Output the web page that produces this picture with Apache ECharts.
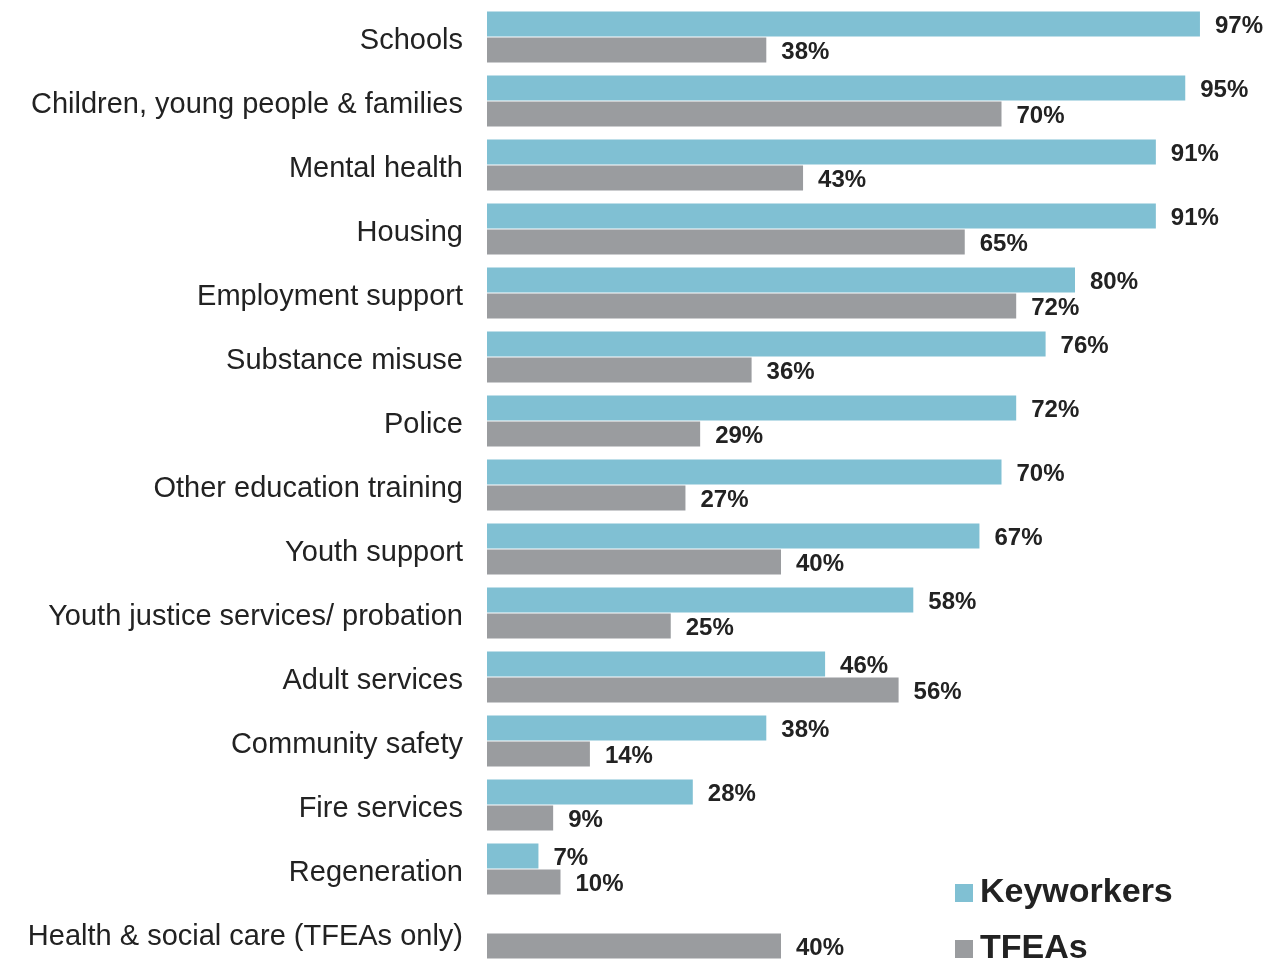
<!DOCTYPE html>
<html>
<head>
<meta charset="utf-8">
<script src="https://cdn.jsdelivr.net/npm/echarts@6/dist/echarts.min.js"></script>
<style>
html,body{margin:0;padding:0;background:#fff;}
#chart{width:1278px;height:960px;}
</style>
</head>
<body>
<div id="chart"></div>
<script>
const categories = [
  "Schools",
  "Children, young people & families",
  "Mental health",
  "Housing",
  "Employment support",
  "Substance misuse",
  "Police",
  "Other education training",
  "Youth support",
  "Youth justice services/ probation",
  "Adult services",
  "Community safety",
  "Fire services",
  "Regeneration",
  "Health & social care (TFEAs only)"
];
const keyworkers = [97, 95, 91, 91, 80, 76, 72, 70, 67, 58, 46, 38, 28, 7, null];
const tfeas = [38, 70, 43, 65, 72, 36, 29, 27, 40, 25, 56, 14, 9, 10, 40];

const font = '"Liberation Sans", Arial, Helvetica, sans-serif';
const chart = echarts.init(document.getElementById('chart'));
const labelStyle = {
  show: true,
  position: 'right',
  distance: 15,
  offset: [0, 2],
  formatter: p => p.value == null ? '' : p.value + '%',
  fontFamily: font,
  fontWeight: 'bold',
  fontSize: 24,
  color: '#222'
};
const legendText = { fontFamily: font, fontWeight: 'bold', fontSize: 34, color: '#222', padding: [0, 0, 0, 2] };
chart.setOption({
  animation: false,
  backgroundColor: '#fff',
  grid: { left: 487, right: 56, top: 5, height: 960, outerBoundsMode: 'none', containLabel: false },
  xAxis: { type: 'value', min: 0, max: 100, show: false },
  yAxis: {
    type: 'category',
    data: categories,
    inverse: true,
    axisLine: { show: false },
    axisTick: { show: false },
    axisLabel: {
      margin: 24, fontFamily: font, fontSize: 29, color: '#222',
      formatter: v => '{a|' + v + '}',
      rich: { a: { fontFamily: font, fontSize: 29, color: '#222', padding: [7, 0, 0, 0] } }
    }
  },
  legend: [
    {
      left: 950, top: 871, itemWidth: 18, itemHeight: 18, icon: 'rect',
      textStyle: legendText, data: ['Keyworkers']
    },
    {
      left: 950, top: 927, itemWidth: 18, itemHeight: 18, icon: 'rect',
      textStyle: legendText, data: ['TFEAs']
    }
  ],
  series: [
    {
      name: 'Keyworkers', type: 'bar', data: keyworkers,
      barWidth: 25, barGap: '4%',
      itemStyle: { color: '#80c0d3' },
      label: labelStyle
    },
    {
      name: 'TFEAs', type: 'bar', data: tfeas,
      barWidth: 25,
      itemStyle: { color: '#9a9c9f' },
      label: labelStyle
    }
  ]
});
</script>
</body>
</html>
